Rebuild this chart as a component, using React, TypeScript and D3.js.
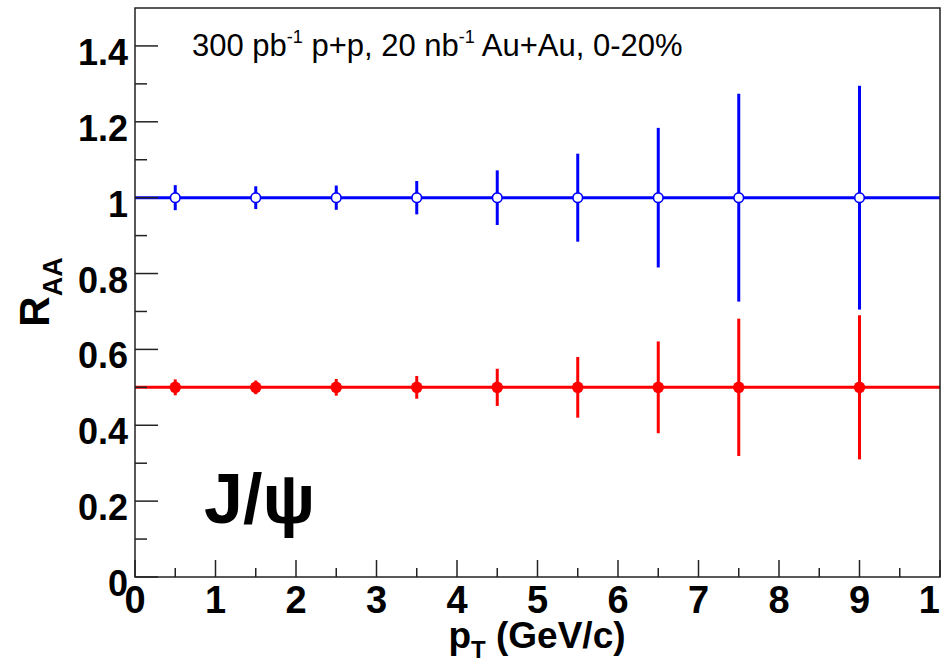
import React from "react";
import * as d3 from "d3";

const ptBins = [0.5, 1.5, 2.5, 3.5, 4.5, 5.5, 6.5, 7.5, 9];
const blueValues = [1, 1, 1, 1, 1, 1, 1, 1, 1];
const blueErrors = [0.033, 0.03, 0.032, 0.044, 0.072, 0.116, 0.184, 0.274, 0.295];
const redValues = [0.5, 0.5, 0.5, 0.5, 0.5, 0.5, 0.5, 0.5, 0.5];
const redErrors = [0.021, 0.018, 0.022, 0.03, 0.049, 0.08, 0.121, 0.181, 0.19];
const xTickValues = [0, 1, 2, 3, 4, 5, 6, 7, 8, 9, 10];
const yTickValues = [0, 0.2, 0.4, 0.6, 0.8, 1, 1.2, 1.4];
const blueLevel = 1;
const redLevel = 0.5;

const W = 941;
const H = 666;
const FONT = "'Liberation Sans', Arial, Helvetica, sans-serif";

export default function App() {
  const left = 135, right = 940, top = 8, bottom = 577;
  const x = d3.scaleLinear().domain([0, 10]).range([left, right]);
  const y = d3.scaleLinear().domain([0, 1.5]).range([bottom, top]);

  const xMinor = d3.range(0.5, 10, 1);
  const yMinor = d3.range(0.1, 1.5, 0.2);

  const blue = "#0000ff";
  const red = "#ff0000";

  const series = [
    { vals: blueValues, errs: blueErrors, color: blue, open: true, level: blueLevel },
    { vals: redValues, errs: redErrors, color: red, open: false, level: redLevel },
  ];

  return (
    <svg
      width={W}
      height={H}
      style={{ position: "absolute", left: 0, top: 0, background: "#fff" }}
      fontFamily={FONT}
    >
      <rect x={0} y={0} width={W} height={H} fill="#fff" />
      {series.map((s, si) => (
        <g key={si}>
          <line x1={left} x2={right} y1={y(s.level)} y2={y(s.level)} stroke={s.color} strokeWidth={3} />
          {ptBins.map((p, i) => (
            <line
              key={"e" + i}
              x1={x(p)}
              x2={x(p)}
              y1={y(s.vals[i] - s.errs[i])}
              y2={y(s.vals[i] + s.errs[i])}
              stroke={s.color}
              strokeWidth={3}
            />
          ))}
          {ptBins.map((p, i) =>
            s.open ? (
              <circle key={"m" + i} cx={x(p)} cy={y(s.vals[i])} r={4.8} fill="#fff" stroke={s.color} strokeWidth={1.6} />
            ) : (
              <circle key={"m" + i} cx={x(p)} cy={y(s.vals[i])} r={5.8} fill={s.color} />
            )
          )}
        </g>
      ))}

      <rect x={left} y={top} width={right - left} height={bottom - top} fill="none" stroke="#222" strokeWidth={1.5} />

      {xTickValues.map((t) => (
        <line key={"xt" + t} x1={x(t)} x2={x(t)} y1={bottom} y2={bottom - 17} stroke="#222" strokeWidth={1.5} />
      ))}
      {xMinor.map((t) => (
        <line key={"xm" + t} x1={x(t)} x2={x(t)} y1={bottom} y2={bottom - 9} stroke="#222" strokeWidth={1.5} />
      ))}
      {yTickValues.map((t) => (
        <line key={"yt" + t} x1={left} x2={left + 23} y1={y(t)} y2={y(t)} stroke="#222" strokeWidth={1.5} />
      ))}
      {yMinor.map((t) => (
        <line key={"ym" + t} x1={left} x2={left + 12} y1={y(t)} y2={y(t)} stroke="#222" strokeWidth={1.5} />
      ))}

      {xTickValues.map((t) => (
        <text key={"xl" + t} x={x(t)} y={613} textAnchor="middle" fontWeight="bold" fontSize={38} fill="#000">
          {d3.format("d")(t)}
        </text>
      ))}
      {yTickValues.map((t) => (
        <text key={"yl" + t} x={128} y={y(t) + 19} textAnchor="end" fontWeight="bold" fontSize={36} fill="#000">
          {t === 0 ? "0" : t === 1 ? "1" : d3.format(".1f")(t)}
        </text>
      ))}

      <text x={537} y={648} textAnchor="middle" fontWeight="bold" fontSize={37} fill="#000">
        p
        <tspan fontSize={24} dy={10}>T</tspan>
        <tspan dy={-10}> (GeV/c)</tspan>
      </text>

      <text transform="translate(49,292) rotate(-90)" textAnchor="middle" fontWeight="bold" fontSize={42} fill="#000">
        R
        <tspan fontSize={27} dy={13}>AA</tspan>
      </text>

      <text x={192} y={56} fontSize={31} fill="#000">
        300 pb
        <tspan fontSize={18} dy={-13}>-1</tspan>
        <tspan dy={13}> p+p, 20 nb</tspan>
        <tspan fontSize={18} dy={-13}>-1</tspan>
        <tspan dy={13}> Au+Au, 0-20%</tspan>
      </text>

      <text x={204} y={523} fontWeight="bold" fontSize={70} fill="#000">
        J/ψ
      </text>
    </svg>
  );
}
